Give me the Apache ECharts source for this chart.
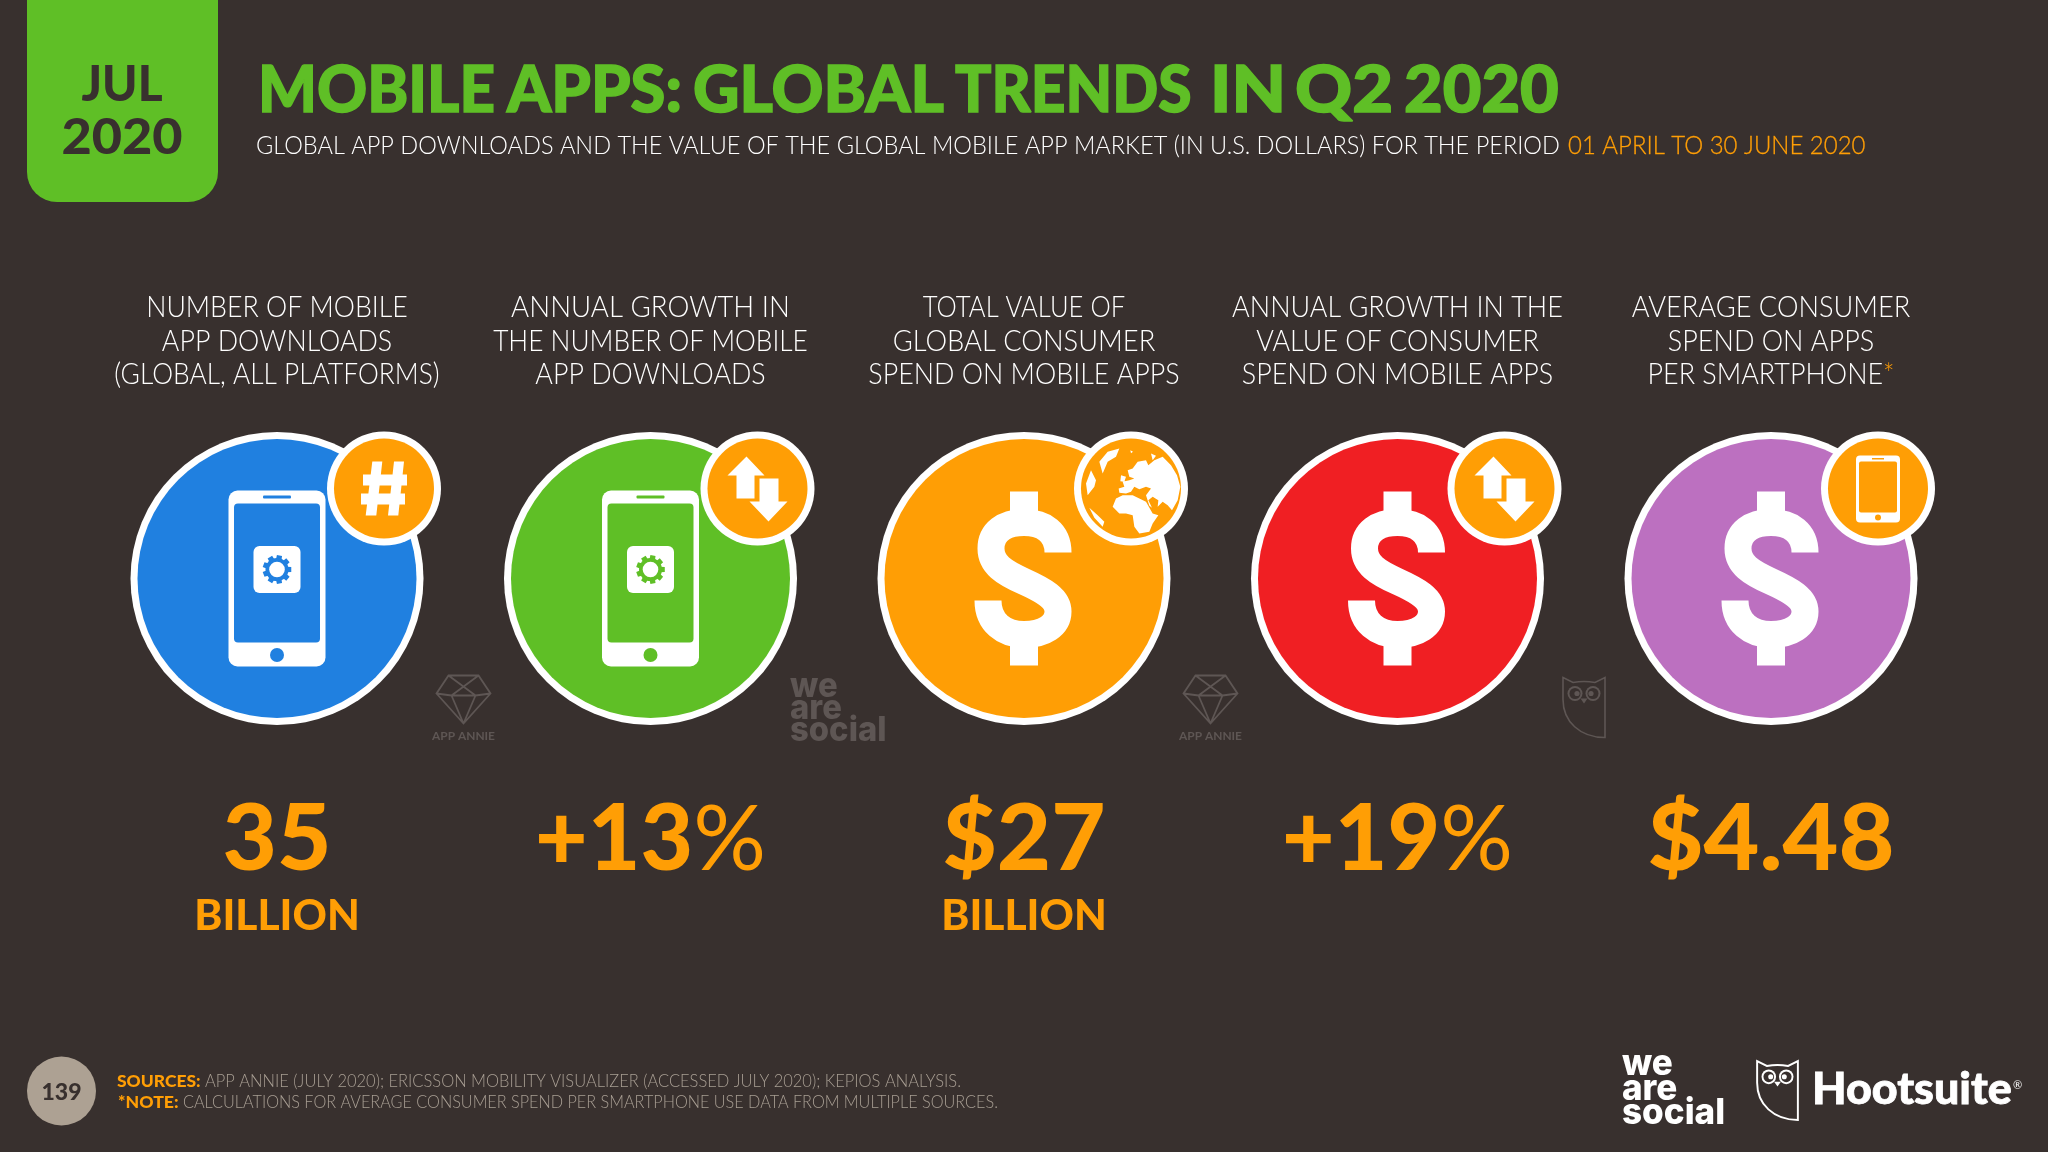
<!DOCTYPE html>
<html><head><meta charset="utf-8">
<style>html,body{margin:0;padding:0;background:#38302e}#c{width:2048px;height:1152px}</style>
<script src="https://cdn.jsdelivr.net/npm/echarts@6/dist/echarts.min.js"></script>
</head><body><div id="c"></div>
<script>
// ---------- data ----------
const monthLabel = 'JUL';
const yearLabel = '2020';
const titleText = 'MOBILE APPS: GLOBAL TRENDS IN Q2 2020';
const subtitleText = 'GLOBAL APP DOWNLOADS AND THE VALUE OF THE GLOBAL MOBILE APP MARKET (IN U.S. DOLLARS) FOR THE PERIOD';
const subtitlePeriod = '01 APRIL TO 30 JUNE 2020';
const categories = [
  ['NUMBER OF MOBILE','APP DOWNLOADS','(GLOBAL, ALL PLATFORMS)'],
  ['ANNUAL GROWTH IN','THE NUMBER OF MOBILE','APP DOWNLOADS'],
  ['TOTAL VALUE OF','GLOBAL CONSUMER','SPEND ON MOBILE APPS'],
  ['ANNUAL GROWTH IN THE','VALUE OF CONSUMER','SPEND ON MOBILE APPS'],
  ['AVERAGE CONSUMER','SPEND ON APPS','PER SMARTPHONE*']
];
const values = [35, 13, 27, 19, 4.48];
const prefixes = ['', '+', '$', '+', '$'];
const suffixes = ['', '%', '', '%', ''];
const units = ['BILLION', '', 'BILLION', '', ''];
const mainIcons = ['phone', 'phone', 'dollar', 'dollar', 'dollar'];
const badgeIcons = ['hash', 'arrows', 'globe', 'arrows', 'phone'];
const dataSources = ['annie', 'wearesocial', 'annie', 'hootsuite', ''];
const pageNumber = '139';
const sourcesLabel = 'SOURCES:';
const sourcesText = 'APP ANNIE (JULY 2020); ERICSSON MOBILITY VISUALIZER (ACCESSED JULY 2020); KEPIOS ANALYSIS.';
const noteLabel = '*NOTE:';
const noteText = 'CALCULATIONS FOR AVERAGE CONSUMER SPEND PER SMARTPHONE USE DATA FROM MULTIPLE SOURCES.';

// ---------- style and layout ----------
const discColors = ['#2080e0', '#5fbf26', '#ff9e05', '#f01f23', '#bc70c0'];
const headerWidths = [[258,229,323],[276,314,229],[202,262,309],[330,283,309],[279,204,243]];
const valueWidths = [103, 223, 158, 223, 242];
const titleSpans = [[258,489],[507,680],[693,941],[955,1190],[1210,1277],[1295,1388],[1404,1556]];
const BG = '#38302e', GREEN = '#5fbf26', ORANGE = '#ff9e05', WHITE = '#ffffff', GREY = '#a89e93', FAINT = '#5e5654';
const FONT = 'Lato, "Noto Sans", sans-serif';
const ctx = document.createElement('canvas').getContext('2d');
function ink(t, font) {
  ctx.font = font;
  const m = ctx.measureText(t);
  return { left: m.actualBoundingBoxLeft, right: m.actualBoundingBoxRight, width: m.actualBoundingBoxLeft + m.actualBoundingBoxRight, adv: m.width };
}
function fit(t, font, w) { return w / ink(t, font).width; }
function text(t, x, y, font, fill, opt) {
  opt = opt || {};
  const style = { text: t, font: font, fill: fill, align: opt.align || 'left', verticalAlign: 'middle' };
  if (opt.bold) { style.stroke = fill; style.lineWidth = opt.bold; }
  return { type: 'text', x: x, y: y, scaleX: opt.sx || 1, silent: true, style: style };
}
const fHeader = '300 29px ' + FONT;
const fValue = '900 91px ' + FONT;
const fPercent = '400 91px ' + FONT;
const fUnit = '900 42px ' + FONT;
const sxUnit = fit('BILLION', fUnit, 160);
const gemPath = 'M-15 -23 L15 -23 L27 -5 L0 25 L-27 -5 Z M-15 -23 L12 -3 M15 -23 L-12 -3 M-27 -5 L-12 -3 L12 -3 L27 -5 M-12 -3 L0 25 M12 -3 L0 25';
const owlPath = 'M-21 -30 L-11 -25 Q0 -27 11 -25 L21 -30 L21 30 C-4 30 -21 14 -21 -8 Z';
const dollarS = 'M34 -26 C34 -46 20 -56 0 -56 C-20 -56 -33 -46 -33 -30 C-33 -14 -20 -6 0 3 C20 12 34 20 34 33 C34 47 20 56 0 56 C-20 56 -36 44 -36 22';
const land = 'M185 110 L200 90 L225 85 L232 100 L250 85 L275 75 L300 100 L318 130 L328 165 L320 205 L303 235 L290 220 L275 210 L260 225 L262 205 L245 195 L232 205 L243 228 L235 222 L225 190 L240 170 L225 165 L205 172 L190 165 L180 180 L165 185 L145 183 L143 170 L160 165 L155 150 L175 145 L190 140 L175 135 L170 115 Z' +
  'M155 190 L185 190 L205 200 L225 210 L245 245 L262 250 L245 275 L235 300 L205 305 L190 285 L185 250 L165 245 L145 245 L125 225 L135 200 Z' +
  'M85 90 L110 60 L145 50 L135 75 L110 90 L95 125 Z M150 130 L165 135 L160 150 L148 148 Z M45 155 L60 115 L75 145 L70 165 L50 190 Z M55 228 L80 250 L100 270 L95 285 L70 258 Z' +
  'M240 65 L255 72 L245 85 Z M178 55 L186 60 L180 64 Z';

function circle(x, y, r, fill) { return { type: 'circle', shape: { cx: x, cy: y, r: r }, style: { fill: fill }, silent: true }; }
function rect(x, y, w, h, fill, r) { return { type: 'rect', shape: { x: x, y: y, width: w, height: h, r: r || 0 }, style: { fill: fill }, silent: true }; }
function path(d, fill, stroke, lw) { return { type: 'path', shape: { pathData: d }, style: { fill: fill || 'none', stroke: stroke || 'none', lineWidth: lw || 0 }, silent: true }; }
function gear(color) {
  let d = '';
  const n = 9;
  for (let k = 0; k < n; k++) {
    const a = k / n * Math.PI * 2, w = 0.2;
    const pts = [[10, a - w * 1.4], [14.5, a - w * 0.9], [14.5, a + w * 0.9], [10, a + w * 1.4]];
    d += pts.map((p, j) => (j ? 'L' : 'M') + (p[0] * Math.cos(p[1])).toFixed(2) + ' ' + (p[0] * Math.sin(p[1])).toFixed(2)).join(' ') + ' Z ';
  }
  return [path(d, color), circle(0, 0, 11.5, color), circle(0, 0, 7.8, WHITE)];
}
function phoneMain(color) {
  return [
    rect(-48.5, -88, 97, 176, WHITE, 9),
    rect(-43, -75, 86, 139, color, 4),
    rect(-14, -83, 28, 3, color, 1),
    circle(0, 76.5, 7, color),
    rect(-23.5, -32.5, 47, 47, WHITE, 6),
    { type: 'group', x: 0, y: -9, children: gear(color) }
  ];
}
function dollar() {
  return [
    rect(-14, -87, 28, 40, WHITE),
    rect(-14, 47, 28, 40, WHITE),
    path(dollarS, null, WHITE, 27)
  ];
}
function badge(kind) {
  if (kind === 'hash') return [
    path('M-11.7 -27 L-1.7 -27 L-7.7 27 L-18.3 27 Z M10 -27 L20 -27 L14.3 27 L4 27 Z M-21 -14 L23 -14 L23 -3 L-21 -3 Z M-23 5 L21 5 L21 16 L-23 16 Z', WHITE)
  ];
  if (kind === 'arrows') return [
    path('M-11 -32 L7 -13 L-3 -13 L-3 10 L-21 10 L-21 -13 L-30 -13 Z', WHITE),
    path('M2 -10 L21 -10 L21 13 L30 13 L11 33 L-8 13 L2 13 Z', WHITE)
  ];
  if (kind === 'globe') return [
    { type: 'group', x: -60, y: -56.7, scaleX: 1 / 3, scaleY: 1 / 3, children: [path(land, WHITE)] }
  ];
  return [
    rect(-22, -33, 44, 67, WHITE, 4),
    rect(-19, -27, 38, 51, ORANGE, 2),
    rect(-6, -30.5, 12, 1.5, ORANGE),
    circle(0, 29, 3, ORANGE)
  ];
}
const wasFaint = '800 34px Inter, ' + FONT;
const sxWas = fit('social', wasFaint, 94);
function sourceMark(kind) {
  if (kind === 'annie') return [
    { type: 'group', x: 186.5, y: 120, children: [path(gemPath, null, FAINT, 1.8)] },
    text('APP ANNIE', 186.5, 158, 'bold 10.5px ' + FONT, FAINT, { align: 'center', sx: fit('APP ANNIE', 'bold 10.5px ' + FONT, 64) })
  ];
  if (kind === 'wearesocial') return [
    text('we', 139.5, 108, wasFaint, FAINT, { sx: sxWas }),
    text('are', 139.5, 130, wasFaint, FAINT, { sx: sxWas }),
    text('social', 139.5, 152, wasFaint, FAINT, { sx: sxWas })
  ];
  if (kind === 'hootsuite') return [
    { type: 'group', x: 186.5, y: 129, children: owlMark(FAINT, 1.6) }
  ];
  return [];
}
function owlMark(color, lw) {
  return [
    path(owlPath, null, color, lw),
    circle(-9, -14, 7.5, color), circle(9, -14, 7.5, color),
    circle(-9, -14, 5.5, BG), circle(9, -14, 5.5, BG),
    circle(-7, -14, 2.6, color), circle(7, -14, 2.6, color),
    path('M-3.5 -9 L3.5 -9 L0 -4 Z', color)
  ];
}
function headerLine(t, y, w) {
  if (t.endsWith('*')) {
    return { type: 'text', x: 0, y: y, scaleX: fit(t, fHeader, w), silent: true, style: {
      text: '{a|' + t.slice(0, -1) + '}{b|*}', align: 'center', verticalAlign: 'middle',
      rich: { a: { font: fHeader, fill: WHITE }, b: { font: fHeader, fill: ORANGE } } } };
  }
  return text(t, 0, y, fHeader, WHITE, { align: 'center', sx: fit(t, fHeader, w) });
}
function valueText(i, y) {
  const v = values[i];
  const main = prefixes[i] + (Number.isInteger(v) ? String(v) : v.toFixed(2));
  const a = ink(main, fValue);
  const w = suffixes[i] ? a.left + a.adv + ink(suffixes[i], fPercent).right : a.width;
  return { type: 'text', x: 0, y: y, scaleX: valueWidths[i] / w, silent: true, style: {
    text: '{a|' + main + '}' + (suffixes[i] ? '{b|' + suffixes[i] + '}' : ''), align: 'center', verticalAlign: 'middle',
    rich: { a: { font: fValue, fill: ORANGE }, b: { font: fPercent, fill: ORANGE } } } };
}
function renderKpi(params, api) {
  const i = params.dataIndex;
  const p = api.coord([api.value(0), 0]);
  const kids = [];
  categories[i].forEach((t, k) => kids.push(headerLine(t, -270.4 + k * 33.5, headerWidths[i][k])));
  kids.push(circle(0, 0, 146.5, WHITE), circle(0, 0, 139.5, discColors[i]));
  (mainIcons[i] === 'phone' ? phoneMain(discColors[i]) : dollar()).forEach(c => kids.push(c));
  kids.push({ type: 'group', x: 107, y: -90, children: [circle(0, 0, 57, WHITE), circle(0, 0, 50, ORANGE)].concat(badge(badgeIcons[i])) });
  sourceMark(dataSources[i]).forEach(c => kids.push(c));
  kids.push(valueText(i, 262));
  if (units[i]) kids.push(text(units[i], 0, 337.8, fUnit, ORANGE, { align: 'center', sx: sxUnit }));
  return { type: 'group', x: p[0], y: p[1], children: kids };
}
function renderBrand() {
  return { type: 'group', x: 1777.5, y: 1090.5, scaleX: 0.97, scaleY: 0.98, children: owlMark(WHITE, 2) };
}

const fTitle = '900 65px ' + FONT, fSub = '300 25px ' + FONT;
const fTab = '900 50px ' + FONT;
const fSrc = '300 17.5px ' + FONT, fSrcB = '900 17.5px ' + FONT;
const wasFont = '800 36px Inter, ' + FONT;
const sxWasMain = fit('social', wasFont, 101);
const titleWords = titleText.split(' ').map((w, k) => {
  const s = fit(w, fTitle, titleSpans[k][1] - titleSpans[k][0]);
  return text(w, titleSpans[k][0], 91, fTitle, GREEN, { sx: s, bold: 1.5 });
});

const chart = echarts.init(document.getElementById('c'), null, { renderer: 'canvas', width: 2048, height: 1152 });
chart.setOption({
  animation: false,
  backgroundColor: BG,
  grid: { left: 90.25, width: 1867.5, top: 5, height: 1147 },
  xAxis: { type: 'category', data: categories.map(c => c.join(' ')), show: false },
  yAxis: { type: 'value', min: -1, max: 1, show: false },
  graphic: { elements: [
    { type: 'rect', x: 27, y: -40, shape: { width: 191, height: 242, r: 30 }, style: { fill: GREEN }, silent: true },
    text(monthLabel, 122, 85, fTab, BG, { align: 'center', sx: fit(monthLabel, fTab, 81) }),
    text(yearLabel, 122, 138, fTab, BG, { align: 'center', sx: fit(yearLabel, fTab, 119) })
  ].concat(titleWords, [
    text(subtitleText, 256, 146, fSub, WHITE, { sx: fit(subtitleText, fSub, 1302) }),
    text(subtitlePeriod, 1568, 146, fSub, ORANGE, { sx: fit(subtitlePeriod, fSub, 297), bold: 0.3 }),
    { type: 'circle', shape: { cx: 61.5, cy: 1091, r: 34.5 }, style: { fill: '#ada193' }, silent: true },
    text(pageNumber, 61.5, 1093, '900 23px ' + FONT, BG, { align: 'center' }),
    text(sourcesLabel, 117, 1081, fSrcB, ORANGE, { sx: fit(sourcesLabel, fSrcB, 83) }),
    text(sourcesText, 205, 1081, fSrc, GREY, { sx: fit(sourcesText, fSrc, 755) }),
    text(noteLabel, 118, 1102, fSrcB, ORANGE, { sx: fit(noteLabel, fSrcB, 60) }),
    text(noteText, 183, 1102, fSrc, GREY, { sx: fit(noteText, fSrc, 813) }),
    text('we', 1622, 1064, wasFont, WHITE, { sx: sxWasMain }),
    text('are', 1622, 1089, wasFont, WHITE, { sx: sxWasMain }),
    text('social', 1622, 1113, wasFont, WHITE, { sx: sxWasMain }),
    text('Hootsuite', 1812, 1090, '900 44px ' + FONT, WHITE, { sx: fit('Hootsuite', '900 44px ' + FONT, 196), bold: 0.8 }),
    text('®', 2013, 1085, '400 11px ' + FONT, WHITE)
  ]) },
  series: [{
    type: 'custom',
    coordinateSystem: 'cartesian2d',
    clip: false,
    silent: true,
    data: categories.map((c, i) => [i, 0]),
    encode: { x: 0, y: 1 },
    renderItem: renderKpi
  }, {
    type: 'custom',
    coordinateSystem: 'none',
    silent: true,
    data: [[0]],
    renderItem: renderBrand
  }]
});
</script>
</body></html>
